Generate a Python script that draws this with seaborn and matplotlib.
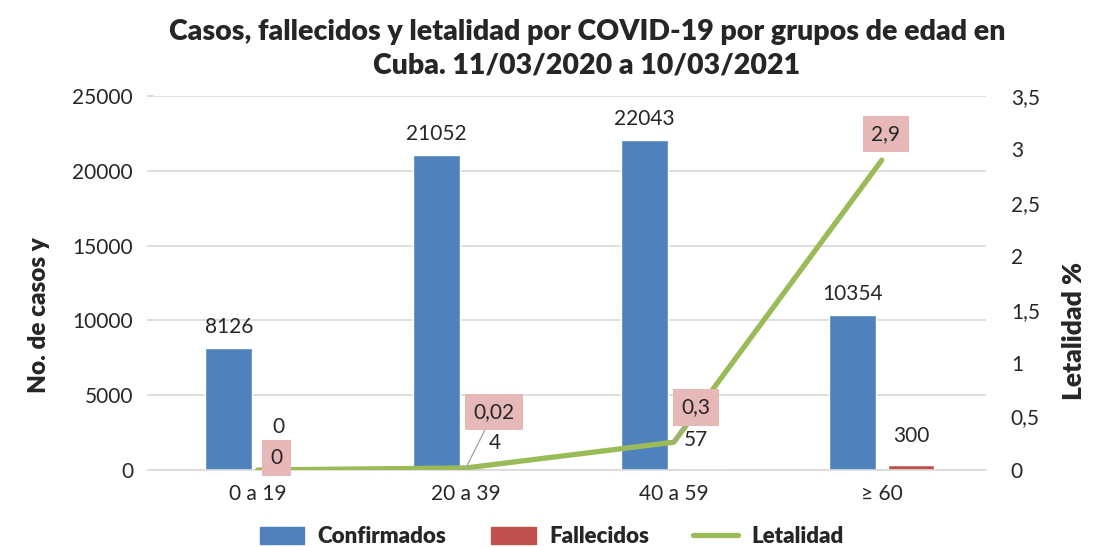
import numpy as np
import pandas as pd
import matplotlib
matplotlib.use("Agg")
import matplotlib.pyplot as plt
import seaborn as sns
from matplotlib.patches import Patch
from matplotlib.lines import Line2D

# datos
grupos = ["0 a 19", "20 a 39", "40 a 59", "\u2265 60"]
confirmados = [8126, 21052, 22043, 10354]
fallecidos = [0, 4, 57, 300]
letalidad = [0.0, 0.019, 0.26, 2.9]
letalidad_txt = ["0", "0,02", "0,3", "2,9"]

AZUL = "#4F81BD"
ROJO = "#C0504D"
VERDE = "#9BBB59"
ROSA = "#E6B9B8"
GRIS = "#D9D9D9"

sns.set_theme(style="white")
plt.rcParams["font.family"] = ["Lato", "DejaVu Sans"]

df = pd.DataFrame({
    "grupo": grupos * 2,
    "serie": ["Confirmados"] * len(grupos) + ["Fallecidos"] * len(grupos),
    "valor": confirmados + fallecidos,
})

fig = plt.figure(figsize=(10.99, 5.47), dpi=100)
ax = fig.add_axes([0.140, 0.1408, 0.757, 0.6837])

sns.barplot(data=df, x="grupo", y="valor", hue="serie", order=grupos,
            palette=[AZUL, ROJO], width=0.56, gap=0.2, dodge=True,
            saturation=1, legend=False, ax=ax)

ax.set_ylim(0, 25000)
ax.set_yticks(np.arange(0, 25001, 5000))
ax.set_xlim(-0.5, len(grupos) - 0.5)
ax.grid(axis="y", color=GRIS, lw=1.2)
ax.set_axisbelow(True)
for s in ["top", "right", "left"]:
    ax.spines[s].set_visible(False)
ax.spines["bottom"].set_color(GRIS)
ax.spines["bottom"].set_linewidth(1.2)
ax.tick_params(axis="y", length=5, color=GRIS, labelsize=15, pad=10, left=True)
ax.tick_params(axis="x", length=0, labelsize=15, pad=10)
ax.set_xlabel("")
ax.set_ylabel("No. de casos y", fontsize=17.5, fontweight="heavy")
ax.yaxis.set_label_coords(-0.125, 0.414)

# etiquetas de barras
cont_conf, cont_fall = ax.containers[0], ax.containers[1]
ax.bar_label(cont_conf, labels=[str(v) for v in confirmados], padding=8, fontsize=15)
off_fall = [(-9, 43), (0, 27), (-7, 29), (0, 29)]
for bar, v, off in zip(cont_fall, fallecidos, off_fall):
    ax.annotate(str(v), (bar.get_x() + bar.get_width() / 2, v), xytext=off,
                textcoords="offset pixels", ha="center", va="center", fontsize=15)

# letalidad
ax2 = ax.twinx()
x_pos = np.arange(len(grupos))
sns.lineplot(x=x_pos, y=letalidad, color=VERDE, lw=3.8, ax=ax2,
             solid_capstyle="round", solid_joinstyle="round")
ax2.set_ylim(0, 3.5)
ax2.set_yticks(np.arange(0, 3.51, 0.5))
ax2.set_yticklabels([("%g" % t).replace(".", ",") for t in np.arange(0, 3.51, 0.5)])
ax2.set_xlim(-0.5, len(grupos) - 0.5)
for s in ["top", "right", "left", "bottom"]:
    ax2.spines[s].set_visible(False)
ax2.tick_params(axis="y", length=0, labelsize=15, pad=18)
ax2.set_ylabel("Letalidad %", fontsize=19, fontweight="heavy")
ax2.yaxis.set_label_coords(1.091, 0.372)

off_let = [(19, 12), (28, 56), (22, 35), (4, 26)]
lider = [False, True, True, False]
for xi, v, txt, off, ld in zip(x_pos, letalidad, letalidad_txt, off_let, lider):
    ax2.annotate(txt, (xi, v), xytext=off, textcoords="offset pixels",
                 ha="center", va="center", fontsize=15,
                 bbox=dict(boxstyle="square,pad=0.4", fc=ROSA, ec="none"),
                 arrowprops=dict(arrowstyle="-", color="#A6A6A6", lw=1,
                                 shrinkA=0, shrinkB=0) if ld else None,
                 zorder=5)

fig.suptitle("Casos, fallecidos y letalidad por COVID-19 por grupos de edad en\nCuba. 11/03/2020 a 10/03/2021",
             fontsize=20.5, fontweight="heavy", x=0.534, y=0.966, linespacing=1.4)

handles = [Patch(color=AZUL, label="Confirmados"),
           Patch(color=ROJO, label="Fallecidos"),
           Line2D([], [], color=VERDE, lw=3.8, solid_capstyle="round", label="Letalidad")]
fig.legend(handles=handles, loc="lower center", ncol=3, frameon=False,
           bbox_to_anchor=(0.502, -0.037), prop={"weight": "heavy", "size": 16},
           handlelength=2.0, handleheight=0.8, columnspacing=2.0, handletextpad=0.6)

fig.savefig("out.png", dpi=100)
